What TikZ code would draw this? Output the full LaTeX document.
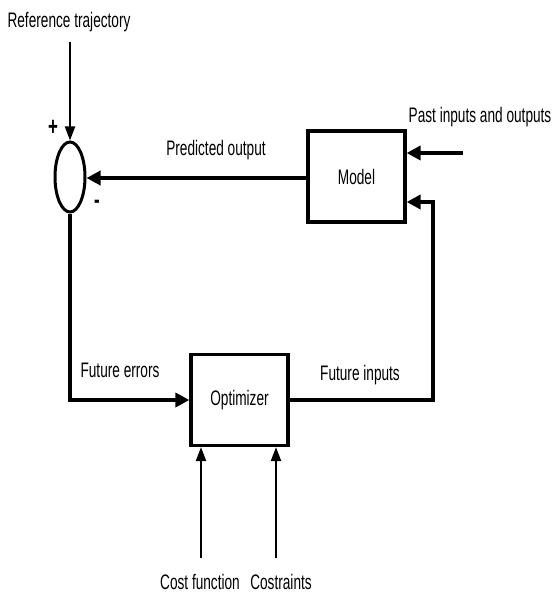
\documentclass[tikz,border=0pt]{standalone}
\usepackage{fontspec}
\setmainfont{Liberation Sans}[FakeStretch=0.65]
\usetikzlibrary{arrows.meta,shapes.geometric}
\tikzset{
  blk/.style={draw,line width=3.2pt,minimum width=97pt,minimum height=91pt,inner sep=0pt,font=\fontsize{21}{23}\selectfont},
  lbl/.style={inner sep=0pt,font=\fontsize{21}{23}\selectfont},
  sgn/.style={inner sep=0pt,font=\fontsize{26}{28}\selectfont\bfseries},
  thickarr/.style={line width=3.6pt,-{Triangle[length=14pt,width=14pt]}},
  thinarr/.style={line width=2.2pt,-{Triangle[length=14pt,width=10pt]}}
}
\begin{document}
\begin{tikzpicture}[x=1pt,y=-1pt]
\useasboundingbox (0,0) rectangle (559,596);
\node[lbl] (ref) at (69,22) {Reference trajectory};
\coordinate (reftop) at (70,42);
\node[draw,ellipse,line width=3pt,minimum width=30pt,minimum height=70pt,inner sep=0pt] (sum) at (70,177) {};
\node[sgn] (plus) at (53,128) {+};
\node[sgn] (minus) at (97,204) {-};
\node[blk] (model) at (356.5,176.5) {Model};
\node[blk] (opt) at (239.5,400) {Optimizer};
\node[lbl] (pred) at (216,150) {Predicted output};
\node[lbl] (past) at (480,117) {Past inputs and outputs};
\node[lbl] (ferr) at (120,370) {Future errors};
\node[lbl] (finp) at (360,375) {Future inputs};
\node[lbl] (cost) at (200,582) {Cost function};
\node[lbl] (cons) at (281,582) {Costraints};
\coordinate (pin) at (463,153);
\coordinate (ret) at (433,202);
\coordinate (c1) at (201,558);
\coordinate (c2) at (276,558);
\draw[thinarr] (reftop) -- (sum.north);
\draw[thickarr] (model.west |- 0,178) -- (sum.east |- 0,178);
\draw[thickarr] (pin) -- (pin -| model.east);
\draw[thickarr] (opt.east) -| (ret) -- (ret -| model.east);
\draw[thickarr] (sum.south) |- (opt.west);
\draw[thinarr] (c1) -- (c1 |- opt.south);
\draw[thinarr] (c2) -- (c2 |- opt.south);
\end{tikzpicture}
\end{document}
